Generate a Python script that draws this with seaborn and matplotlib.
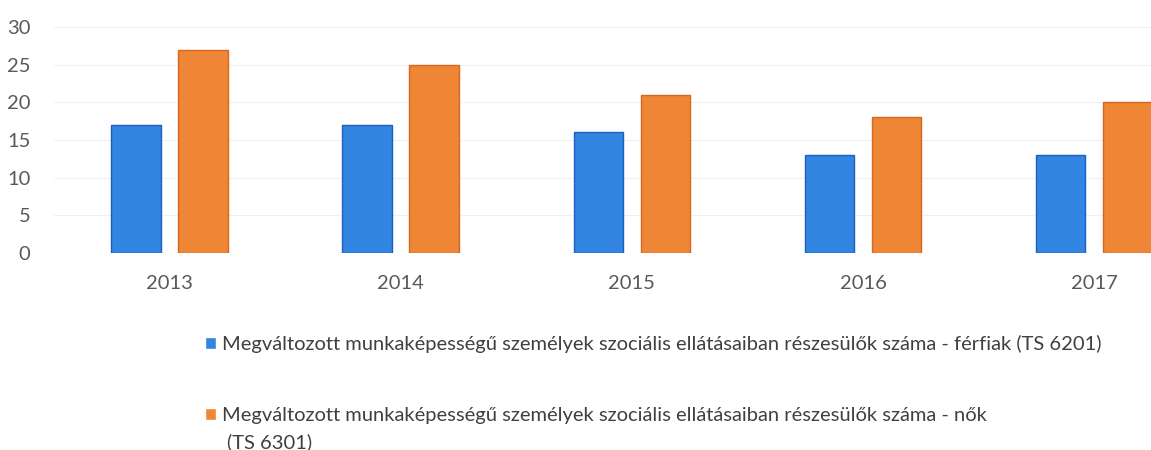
import pandas as pd
import seaborn as sns
import matplotlib.pyplot as plt

years = ['2013', '2014', '2015', '2016', '2017']
ferfiak = [17, 17, 16, 13, 13]
nok = [27, 25, 21, 18, 20]
label_f = 'Megváltozott munkaképességű személyek szociális ellátásaiban részesülők száma - férfiak (TS 6201)'
label_n = 'Megváltozott munkaképességű személyek szociális ellátásaiban részesülők száma - nők'
label_n_cont = '(TS 6301)'

df = pd.DataFrame({
    'ev': years * 2,
    'ertek': ferfiak + nok,
    'csoport': [label_f] * len(years) + [label_n] * len(years),
})

sns.set_style('white')
plt.rcParams['font.family'] = ['Lato', 'DejaVu Sans']

fig = plt.figure(figsize=(11.51, 4.5), dpi=100)
ax = fig.add_axes([0.047, 0.438, 1.004, 0.502])

palette = {label_f: '#3385E2', label_n: '#EE8636'}
sns.barplot(data=df, x='ev', y='ertek', hue='csoport', palette=palette,
            width=0.58, gap=0.26, saturation=1, ax=ax, legend=True)
for bar, ec in zip(ax.patches, ['#1c5fc4'] * 5 + ['#d8661c'] * 5):
    bar.set_edgecolor(ec)
    bar.set_linewidth(1)

ax.set_ylim(0, 30)
ax.set_yticks(range(0, 31, 5))
ax.set_xlim(-0.5, 4.5)
ax.yaxis.grid(True, color='#f0f0f0', linewidth=0.8)
ax.set_axisbelow(True)
for s in ax.spines.values():
    s.set_visible(False)
ax.set_xlabel('')
ax.set_ylabel('')
ax.tick_params(axis='both', length=0, labelsize=14.5, colors='#595959')
ax.tick_params(axis='y', pad=17)
ax.tick_params(axis='x', pad=16)

handles, labels = ax.get_legend_handles_labels()
ax.legend_.remove()
fig.legend(handles, labels, loc='upper left', bbox_to_anchor=(0.162, 0.296),
           frameon=False, fontsize=14.5, labelcolor='#404040',
           handlelength=0.55, handleheight=0.55, handletextpad=0.3,
           labelspacing=2.7)
fig.text(0.197, 0.018, label_n_cont, fontsize=14.5, color='#404040', va='center')

fig.savefig('out.png', dpi=100)
